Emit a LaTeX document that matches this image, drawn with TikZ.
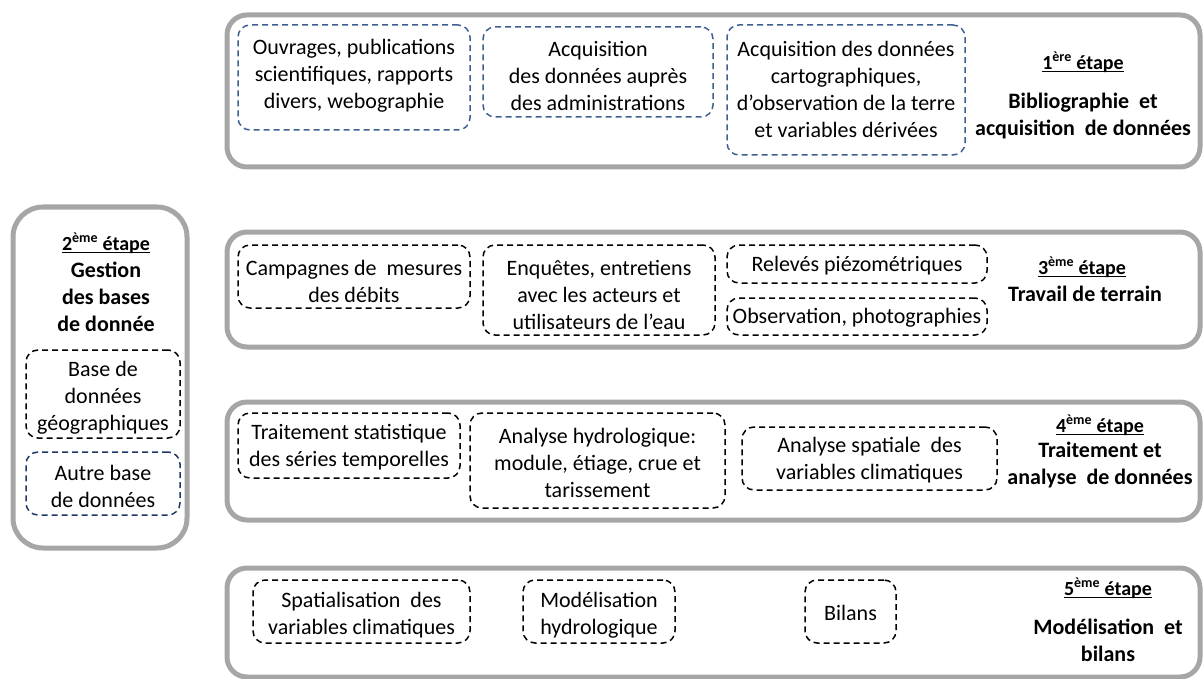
\documentclass[tikz,border=0pt]{standalone}
\usepackage{fontspec}
\setmainfont{Carlito}
\definecolor{boxgray}{RGB}{166,166,166}
\definecolor{dblue}{RGB}{62,96,145}
\definecolor{dnavy}{RGB}{32,56,100}
\newcommand{\stepul}[1]{\setbox0\hbox{#1}\rlap{\rule[-3pt]{\wd0}{1.4pt}}\box0}
\begin{document}
\begin{tikzpicture}[x=1pt,y=-1pt,
 bigbox/.style={draw=boxgray, line width=5pt, rounded corners=20pt, inner sep=0pt},
 dashbox/.style={draw=black, line width=1.5pt, dash pattern=on 6pt off 4pt, rounded corners=12pt, inner sep=0pt},
 bluebox/.style={dashbox, draw=dblue},
 navybox/.style={dashbox, draw=dnavy},
 txt/.style={align=center, inner sep=0pt, font=\fontsize{22}{27}\selectfont},
 steplbl/.style={align=center, inner sep=0pt, font=\fontsize{20}{24}\selectfont\bfseries},
 titlelbl/.style={align=center, inner sep=0pt, font=\fontsize{22}{27}\selectfont\bfseries},
]
\useasboundingbox (0,0) rectangle (1204,679);

% big boxes
\node[bigbox, minimum width=973pt, minimum height=152pt] (s1) at (713.5,91) {};
\node[bigbox, rounded corners=30pt, minimum width=174pt, minimum height=341pt] (s2) at (100,377.5) {};
\node[bigbox, minimum width=973pt, minimum height=115pt] (s3) at (713.5,289.5) {};
\node[bigbox, minimum width=973pt, minimum height=118pt] (s4) at (713.5,461) {};
\node[bigbox, minimum width=973pt, minimum height=109pt] (s5) at (713.5,622.5) {};

% step 1
\node[bluebox, minimum width=232pt, minimum height=105pt] (a1) at (354,77.5) {};
\node[txt] (a1t) at (354,76) {Ouvrages, publications\\scientifiques, rapports\\divers, webographie};
\node[bluebox, minimum width=230pt, minimum height=90pt] (b1) at (598,72) {};
\node[txt] (b1t) at (598,76) {Acquisition\\des données auprès\\des administrations};
\node[bluebox, minimum width=238pt, minimum height=130pt] (c1) at (846,90) {};
\node[txt] (c1t) at (846,89.5) {Acquisition des données\\cartographiques,\\d’observation de la terre\\et variables dérivées};
\node[steplbl] (l1) at (1083,62) {\stepul{1\textsuperscript{ère} étape}};
\node[titlelbl] (t1) at (1083,116) {Bibliographie\ \ et\\acquisition\ \ de données};

% step 2
\node[titlelbl] (t2) at (106,282) {\fontsize{20}{27}\selectfont\stepul{2\textsuperscript{ème} étape}\\Gestion\\des bases\\de donnée};
\node[dashbox, minimum width=154pt, minimum height=88pt] (a2) at (103,394) {};
\node[txt] (a2t) at (103,398) {Base de\\données\\géographiques};
\node[navybox, minimum width=154pt, minimum height=63pt] (b2) at (103,483.5) {};
\node[txt] (b2t) at (103,486.5) {Autre base\\de données};

% step 3
\node[dashbox, minimum width=232pt, minimum height=63pt] (a3) at (354,276.5) {};
\node[txt] (a3t) at (354,281.5) {Campagnes de\ \ mesures\\des débits};
\node[dashbox, minimum width=232pt, minimum height=90pt] (b3) at (599,290) {};
\node[txt] (b3t) at (599,295) {Enquêtes, entretiens\\avec les acteurs et\\utilisateurs de l’eau};
\node[dashbox, minimum width=260pt, minimum height=38pt] (c3) at (857,264) {};
\node[txt] (c3t) at (857,266) {Relevés piézométriques};
\node[dashbox, minimum width=260pt, minimum height=37pt] (d3) at (857,316.5) {};
\node[txt] (d3t) at (857,318) {Observation, photographies};
\node[steplbl] (l3) at (1082,267) {\stepul{3\textsuperscript{ème} étape}};
\node[titlelbl] (t3) at (1085,294) {Travail de terrain};

% step 4
\node[dashbox, minimum width=222pt, minimum height=65pt] (a4) at (349,445.5) {};
\node[txt] (a4t) at (349,447) {Traitement statistique\\des séries temporelles};
\node[dashbox, minimum width=255pt, minimum height=95pt] (b4) at (597.5,460.5) {};
\node[txt] (b4t) at (597.5,463) {Analyse hydrologique:\\module, étiage, crue et\\tarissement};
\node[dashbox, minimum width=255pt, minimum height=63pt] (c4) at (869.5,458.5) {};
\node[txt] (c4t) at (869.5,460) {Analyse spatiale\ \ des\\variables climatiques};
\node[steplbl] (l4) at (1100,425) {\stepul{4\textsuperscript{ème} étape}};
\node[titlelbl] (t4) at (1100,465) {Traitement et\\analyse\ \ de données};

% step 5
\node[dashbox, minimum width=217pt, minimum height=63pt] (a5) at (361.5,611.5) {};
\node[txt] (a5t) at (361.5,615) {Spatialisation\ \ des\\variables climatiques};
\node[dashbox, minimum width=152pt, minimum height=63pt] (b5) at (599,611.5) {};
\node[txt] (b5t) at (599,615) {Modélisation\\hydrologique};
\node[dashbox, minimum width=91pt, minimum height=63pt] (c5) at (850.5,611.5) {};
\node[txt] (c5t) at (850.5,613) {Bilans};
\node[steplbl] (l5) at (1108,588) {\stepul{5\textsuperscript{ème} étape}};
\node[titlelbl] (t5) at (1108,640.5) {Modélisation\ \ et\\bilans};
\end{tikzpicture}
\end{document}
